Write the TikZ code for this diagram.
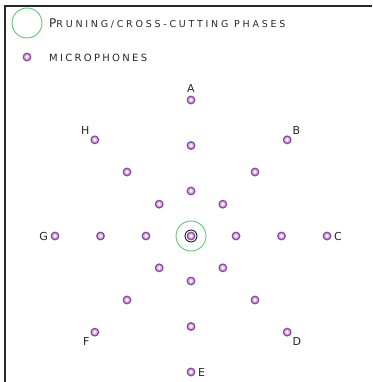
\documentclass[tikz,border=0pt]{standalone}
\usepackage{fontspec}
\setmainfont{DejaVu Sans}
\newfontfamily\phasefont[LetterSpace=29]{DejaVu Sans}
\newfontfamily\micfont[LetterSpace=23]{DejaVu Sans}
\usetikzlibrary{positioning, calc}
\definecolor{MicPurple}{RGB}{125,75,175}
\definecolor{MicPink}  {RGB}{235,180,215}
\definecolor{PhaseGreen}{RGB}{90,200,110}
\definecolor{LabelGray}{RGB}{40,40,40}
\definecolor{FrameGray}{RGB}{40,40,40}
\tikzset{
  mic/.style={circle, draw=MicPurple, line width=1.3pt, fill=MicPink,
    inner sep=0pt, minimum size=7.5pt,
    path picture={\fill[white] (path picture bounding box.center) circle (1.5pt);}},
  phase/.style={circle, draw=PhaseGreen, line width=0.9pt, inner sep=0pt, minimum size=30pt},
  micletter/.style={text=LabelGray, font=\fontsize{11}{11}\selectfont, inner sep=1pt},
  legendtext/.style={text=LabelGray, anchor=west, inner sep=0pt}
}
\begin{document}
\begin{tikzpicture}[x=1pt,y=1pt]
  \useasboundingbox (0,0) rectangle (372,-382);
  % frame
  \draw[FrameGray, line width=1.8pt] (372,-6) -- (5,-6) -- (5,-382);
  % legend
  \node[phase] (legphase) at (27,-23) {};
  \node[legendtext] (legphasetxt) at (49,-23.5)
    {\phasefont{\fontsize{12}{12}\selectfont P}{\fontsize{9.5}{9.5}\selectfont RUNING/CROSS-CUTTING PHASES}};
  \node[mic] (legmic) at (27,-57) {};
  \node[legendtext] (legmictxt) at (49,-57.5)
    {\micfont\fontsize{10}{10}\selectfont MICROPHONES};
  % centre microphone
  \coordinate (ctr) at (191,-236);
  \node[mic] (m0) at (ctr) {};
  \draw[black, line width=0.8pt] (ctr) circle (6);
  \node[phase] (centrephase) at (ctr) {};
  % rings of microphones
  \foreach \ang/\nm/\pos in {90/A/above, 45/B/above right, 0/C/right, -45/D/below right,
      -90/E/right, -135/F/below left, 180/G/left, 135/H/above left}{
    \foreach \r/\k in {45/1, 90.5/2, 136/3}{
      \node[mic] (m\nm\k) at ($(ctr)+(\ang:\r)$) {};
    }
    \node[micletter, \pos=1.5pt of m\nm3] (lbl\nm) {\nm};
  }
\end{tikzpicture}
\end{document}
